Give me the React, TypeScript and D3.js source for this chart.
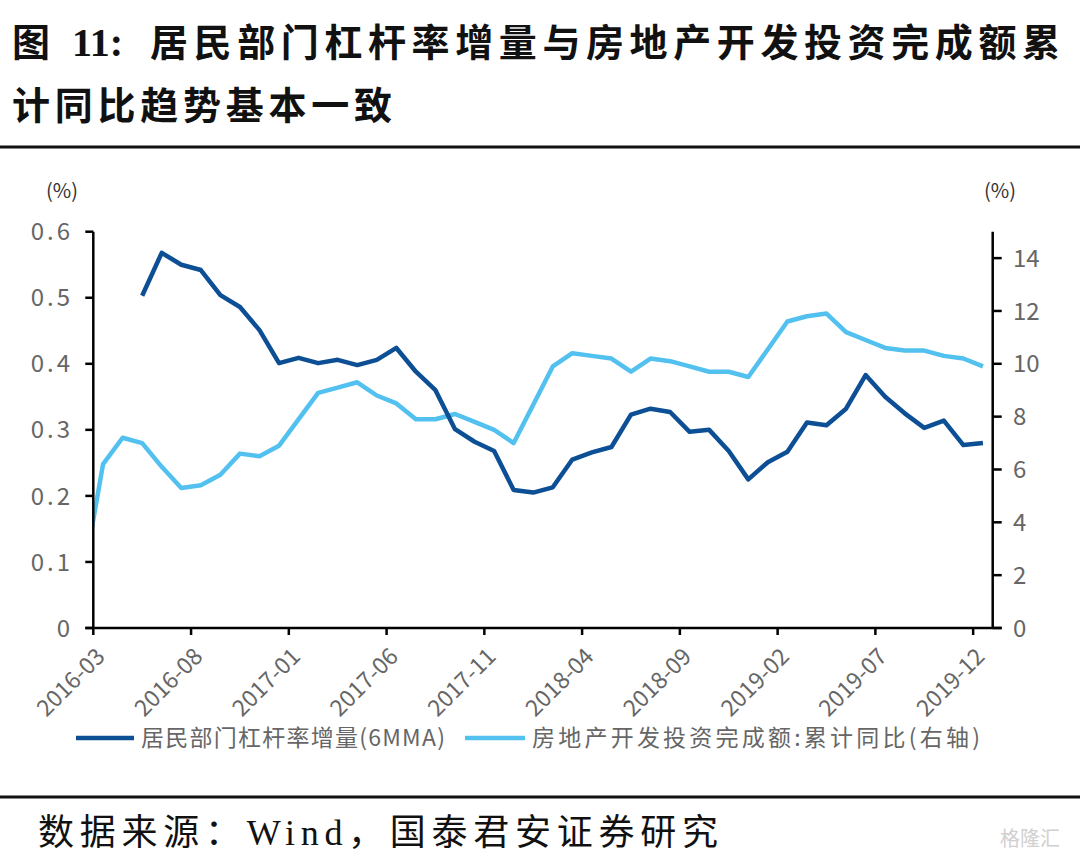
import React from "react";
import * as d3 from "d3";

// ---------- data ----------
const xTickLabels = ["2016-03", "2016-08", "2017-01", "2017-06", "2017-11", "2018-04", "2018-09", "2019-02", "2019-07", "2019-12"];

const leverageMonths = [
  "2016-05", "2016-06", "2016-07", "2016-08", "2016-09", "2016-10", "2016-11", "2016-12",
  "2017-01", "2017-02", "2017-03", "2017-04", "2017-05", "2017-06", "2017-07", "2017-08", "2017-09", "2017-10", "2017-11", "2017-12",
  "2018-01", "2018-02", "2018-03", "2018-04", "2018-05", "2018-06", "2018-07", "2018-08", "2018-09", "2018-10", "2018-11", "2018-12",
  "2019-01", "2019-02", "2019-03", "2019-04", "2019-05", "2019-06", "2019-07", "2019-08", "2019-09", "2019-10", "2019-11", "2019-12",
];
const leverageValues = [
  0.503, 0.568, 0.55, 0.542, 0.504, 0.486, 0.451, 0.401,
  0.409, 0.401, 0.406, 0.398, 0.406, 0.424, 0.388, 0.36, 0.301, 0.282, 0.268, 0.209,
  0.205, 0.213, 0.255, 0.266, 0.274, 0.323, 0.332, 0.327, 0.297, 0.3, 0.268, 0.225,
  0.251, 0.267, 0.311, 0.307, 0.332, 0.383, 0.35, 0.325, 0.303, 0.314, 0.277, 0.28,
];

const investMonths = [
  "2016-02", "2016-03", "2016-04", "2016-05", "2016-06", "2016-07", "2016-08", "2016-09", "2016-10", "2016-11", "2016-12",
  "2017-02", "2017-03", "2017-04", "2017-05", "2017-06", "2017-07", "2017-08", "2017-09", "2017-10", "2017-11", "2017-12",
  "2018-02", "2018-03", "2018-04", "2018-05", "2018-06", "2018-07", "2018-08", "2018-09", "2018-10", "2018-11", "2018-12",
  "2019-02", "2019-03", "2019-04", "2019-05", "2019-06", "2019-07", "2019-08", "2019-09", "2019-10", "2019-11", "2019-12",
];
const investValues = [
  2.0, 6.2, 7.2, 7.0, 6.1, 5.3, 5.4, 5.8, 6.6, 6.5, 6.9,
  8.9, 9.1, 9.3, 8.8, 8.5, 7.9, 7.9, 8.1, 7.8, 7.5, 7.0,
  9.9, 10.4, 10.3, 10.2, 9.7, 10.2, 10.1, 9.9, 9.7, 9.7, 9.5,
  11.6, 11.8, 11.9, 11.2, 10.9, 10.6, 10.5, 10.5, 10.3, 10.2, 9.9,
];

const leftTicks = [0, 0.1, 0.2, 0.3, 0.4, 0.5, 0.6];
const rightTicks = [0, 2, 4, 6, 8, 10, 12, 14];

const titleLine1 = "居民部门杠杆率增量与房地产开发投资完成额累";
const titleLine2 = "计同比趋势基本一致";
const legend1 = "居民部门杠杆率增量(6MMA)";
const legend2 = "房地产开发投资完成额:累计同比(右轴)";
const sourceText = "数据来源：Wind，国泰君安证券研究";

// ---------- helpers ----------
const START = { y: 2016, m: 3 };
const monthIdx = (s: string) => {
  const [y, m] = s.split("-").map(Number);
  return (y - START.y) * 12 + (m - START.m);
};

const DARK = "#0D4F95";
const LIGHT = "#53C1EF";
const GRAY = "#666666";
const CJK = "'Noto Sans CJK SC', 'Noto Sans', sans-serif";

export default function App() {
  const left = 93.3, right = 992.7, top = 231.7, bottom = 628;
  const x = d3.scaleLinear().domain([0, 46]).range([left, right]);
  const yL = d3.scaleLinear().domain([0, 0.6]).range([bottom, top]);
  const yR = d3.scaleLinear().domain([0, 15]).range([bottom, top]);

  const levData = leverageMonths.map((m, i) => ({ t: monthIdx(m) + 0.5, v: leverageValues[i] }));
  const invData = investMonths.map((m, i) => ({ t: monthIdx(m) + 0.5, v: investValues[i] }));

  const levLine = d3.line<{ t: number; v: number }>().x((d) => x(d.t)).y((d) => yL(d.v));
  const invLine = d3.line<{ t: number; v: number }>().x((d) => x(d.t)).y((d) => yR(d.v));
  const fmtL = d3.format(".1f");

  return (
    <svg width={1080} height={866} style={{ position: "absolute", left: 0, top: 0, background: "#fff" }}>
      <rect x={0} y={0} width={1080} height={866} fill="#fff" />
      {/* Title */}
      <g fontFamily={CJK} fontWeight={700} fill="#111">
        <text x={12} y={56} fontSize={38}>
          图
        </text>
        <text x={72} y={56} fontSize={40} fontFamily="'Liberation Serif', serif" fontWeight={700}>
          11:
        </text>
        <text x={150} y={56} fontSize={38} textLength={910} lengthAdjust="spacing">
          {titleLine1}
        </text>
        <text x={12} y={119} fontSize={38} textLength={380} lengthAdjust="spacing">
          {titleLine2}
        </text>
      </g>
      <line x1={0} x2={1080} y1={147} y2={147} stroke="#111" strokeWidth={3} />

      <defs>
        <clipPath id="plotClip">
          <rect x={left} y={top - 20} width={right - left} height={bottom - top + 20} />
        </clipPath>
      </defs>

      {/* unit labels */}
      <text x={62} y={198} fontSize={20} fontFamily={CJK} fill="#333" textAnchor="middle">
        (%)
      </text>
      <text x={1000} y={198} fontSize={20} fontFamily={CJK} fill="#333" textAnchor="middle">
        (%)
      </text>

      {/* lines */}
      <g clipPath="url(#plotClip)">
        <path d={invLine(invData) || ""} fill="none" stroke={LIGHT} strokeWidth={4.5} strokeLinejoin="round" />
        <path d={levLine(levData) || ""} fill="none" stroke={DARK} strokeWidth={4.5} strokeLinejoin="round" />
      </g>

      {/* left axis */}
      <line x1={left} x2={left} y1={top} y2={bottom} stroke="#000" strokeWidth={2.5} />
      {leftTicks.map((t) => (
        <g key={"l" + t}>
          <line x1={left - 8} x2={left} y1={yL(t)} y2={yL(t)} stroke="#000" strokeWidth={2.5} />
          <text x={73} y={yL(t)} dy="0.36em" fontSize={24} fontFamily={CJK} fill={GRAY} textAnchor="end" letterSpacing={3}>
            {t === 0 ? "0" : fmtL(t)}
          </text>
        </g>
      ))}

      {/* right axis */}
      <line x1={right} x2={right} y1={top} y2={bottom} stroke="#000" strokeWidth={2.5} />
      {rightTicks.map((t) => (
        <g key={"r" + t}>
          <line x1={right} x2={right + 9} y1={yR(t)} y2={yR(t)} stroke="#000" strokeWidth={2.5} />
          <text x={1013} y={yR(t)} dy="0.36em" fontSize={24} fontFamily={CJK} fill={GRAY} textAnchor="start">
            {t}
          </text>
        </g>
      ))}

      {/* x axis */}
      <line x1={left - 8} x2={right + 9} y1={bottom} y2={bottom} stroke="#000" strokeWidth={2.5} />
      {xTickLabels.map((lab) => {
        const xi = x(monthIdx(lab));
        return (
          <g key={lab}>
            <line x1={xi} x2={xi} y1={bottom} y2={bottom + 7} stroke="#000" strokeWidth={2.5} />
            <text
              transform={`translate(${xi + 13},${bottom + 30}) rotate(-45)`}
              fontSize={23}
              fontFamily={CJK}
              fill={GRAY}
              textAnchor="end"
            >
              {lab}
            </text>
          </g>
        );
      })}

      {/* legend */}
      <line x1={76} x2={134} y1={738} y2={738} stroke={DARK} strokeWidth={4.5} />
      <text x={141} y={746} fontSize={23} fontFamily={CJK} fill={GRAY} textLength={304} lengthAdjust="spacing">
        {legend1}
      </text>
      <line x1={465} x2={525} y1={738} y2={738} stroke={LIGHT} strokeWidth={4.5} />
      <text x={532} y={746} fontSize={23} fontFamily={CJK} fill={GRAY} textLength={448} lengthAdjust="spacing">
        {legend2}
      </text>

      {/* bottom rule + source */}
      <line x1={0} x2={1080} y1={797} y2={797} stroke="#111" strokeWidth={3} />
      <text x={38} y={845} fontSize={36} fontFamily={"'Liberation Serif', " + CJK} fill="#111" textLength={680} lengthAdjust="spacing">
        {sourceText}
      </text>
      <text x={1030} y={846} fontSize={20} fontFamily={CJK} fill="#d0d0d0" textAnchor="middle">
        格隆汇
      </text>
    </svg>
  );
}
